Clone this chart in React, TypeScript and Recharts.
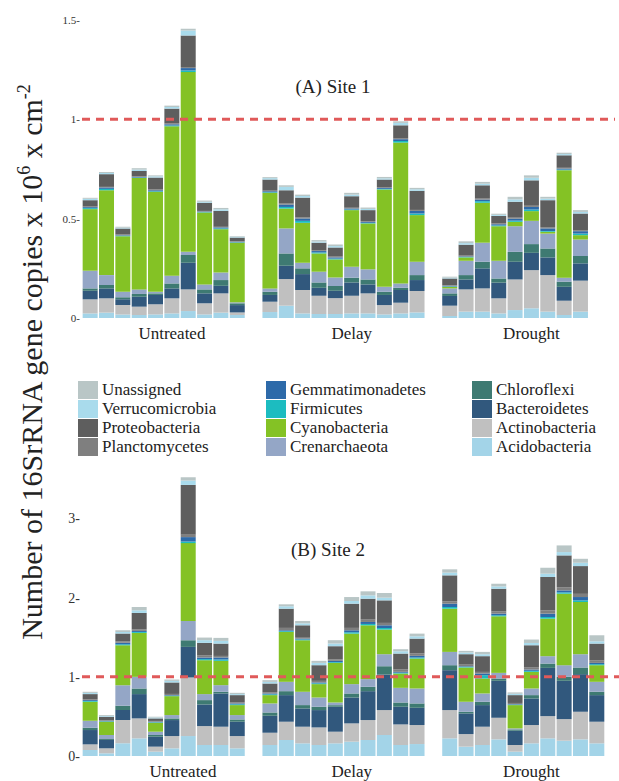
import { BarChart, Bar, XAxis, YAxis, ReferenceLine } from 'recharts'

// stack order, bottom to top
const phyla = [
  'Acidobacteria', 'Actinobacteria', 'Bacteroidetes', 'Chloroflexi', 'Crenarchaeota', 'Cyanobacteria',
  'Firmicutes', 'Gemmatimonadetes', 'Planctomycetes', 'Proteobacteria', 'Verrucomicrobia', 'Unassigned',
]
const phylumColors = [
  '#a3d4e8', '#c0c0c0', '#31587d', '#3e7a72', '#94a6c6', '#84c225',
  '#1cbcc0', '#2d6aa9', '#7f7f7f', '#5e5e5e', '#a9dbec', '#b9c6c6',
]
const groups = ['Untreated', 'Delay', 'Drought']
const barsPerGroup = 10
const labelBar = 6

const site1Ticks = [0, 0.5, 1, 1.5]
const site2Ticks = [0, 1, 2, 3]

// Site 1 (Untreated x10, Delay x10, Drought x9 + empty slot)
const s1Acido = [.023, .027, .018, .015, .018, .023, .035, .018, .027, .015, .03, .062, .023, .02, .02, .023, .023, .018, .023, .028, .01, .032, .032, .023, .04, .049, .032, .015, .032, null]
const s1Actino = [.071, .072, .047, .042, .051, .076, .109, .056, .097, .013, .052, .134, .118, .092, .08, .089, .101, .047, .054, .108, .052, .112, .117, .076, .154, .192, .184, .072, .156, null]
const s1Bactero = [.043, .05, .029, .05, .047, .05, .134, .05, .038, .037, .034, .067, .08, .04, .037, .067, .045, .051, .064, .055, .049, .05, .101, .079, .089, .087, .089, .07, .087, null]
const s1Chloro = [.012, .017, .01, .014, .008, .025, .039, .02, .029, .009, .016, .062, .029, .027, .024, .024, .025, .016, .011, .025, .013, .022, .033, .021, .05, .044, .045, .026, .037, null]
const s1Crenar = [.089, .05, .028, .023, .008, .039, .016, .025, .038, .005, .017, .126, .028, .054, .043, .055, .051, .025, .022, .067, .025, .072, .096, .089, .129, .117, .075, .02, .083, null]
const s1Cyano = [.31, .427, .28, .561, .503, .752, .905, .362, .218, .3, .481, .1, .201, .092, .091, .285, .231, .49, .709, .235, .008, .017, .201, .174, .022, .049, .009, .541, .022, null]
const s1Firmi = [.005, .007, .002, .002, .003, .004, .008, .002, .004, .002, .003, .008, .01, .005, .004, .003, .003, .003, .008, .008, .002, .002, .008, .004, .006, .008, .004, .003, .008, null]
const s1Gemma = [.005, .007, .003, .003, .005, .006, .012, .003, .005, .003, .005, .012, .012, .007, .006, .005, .005, .005, .009, .013, .003, .003, .008, .006, .01, .013, .013, .005, .012, null]
const s1Plancto = [.003, .003, .003, .003, .004, .004, .005, .003, .003, .003, .003, .005, .005, .004, .004, .004, .004, .004, .005, .005, .003, .004, .005, .004, .005, .006, .006, .004, .005, null]
const s1Proteo = [.032, .064, .03, .027, .06, .075, .159, .041, .08, .018, .056, .067, .1, .038, .046, .058, .055, .038, .065, .096, .034, .055, .067, .038, .08, .128, .136, .063, .084, null]
const s1Verruco = [.007, .006, .004, .007, .006, .008, .025, .005, .008, .004, .007, .017, .008, .006, .007, .008, .006, .006, .012, .008, .004, .008, .008, .005, .012, .013, .008, .006, .008, null]
const s1Unassigned = [.005, .005, .005, .007, .005, .007, .009, .006, .007, .003, .005, .008, .007, .007, .008, .009, .007, .007, .008, .007, .005, .009, .009, .006, .013, .012, .009, .007, .009, null]

// Site 2
const s2Acido = [.076, .034, .16, .223, .055, .097, .252, .139, .139, .097, .139, .202, .16, .139, .16, .181, .202, .265, .139, .151, .223, .118, .139, .21, .055, .16, .223, .193, .21, .16]
const s2Actino = [.071, .063, .294, .252, .063, .155, .74, .239, .231, .155, .155, .231, .21, .222, .147, .231, .252, .315, .26, .24, .357, .159, .231, .273, .084, .231, .281, .273, .349, .273]
const s2Bactero = [.181, .105, .126, .307, .126, .202, .386, .273, .42, .181, .214, .336, .231, .219, .315, .327, .365, .449, .223, .218, .504, .261, .273, .467, .18, .336, .609, .484, .475, .336]
const s2Chloro = [.029, .012, .054, .071, .021, .021, .084, .055, .021, .029, .042, .05, .042, .042, .02, .051, .055, .105, .054, .055, .063, .021, .042, .029, .017, .042, .055, .05, .084, .042]
const s2Crenar = [.088, .051, .261, .147, .042, .042, .244, .076, .084, .055, .114, .118, .168, .117, .034, .118, .097, .152, .185, .189, .168, .126, .105, .071, .013, .084, .093, .147, .168, .126]
const s2Cyano = [.24, .168, .504, .555, .113, .239, .983, .428, .307, .126, .105, .63, .651, .169, .5, .638, .68, .311, .181, .378, .546, .433, .189, .715, .294, .21, .474, .903, .659, .21]
const s2Firmi = [.01, .005, .013, .012, .006, .006, .02, .014, .017, .01, .01, .01, .01, .01, .01, .017, .017, .02, .01, .013, .021, .008, .042, .013, .006, .013, .021, .017, .021, .013]
const s2Gemma = [.011, .007, .017, .013, .007, .007, .056, .02, .025, .011, .011, .011, .011, .011, .016, .025, .025, .034, .011, .021, .042, .008, .021, .02, .006, .016, .042, .025, .042, .016]
const s2Plancto = [.01, .008, .02, .02, .01, .015, .03, .025, .02, .015, .015, .03, .02, .02, .02, .03, .03, .03, .03, .03, .03, .02, .02, .03, .015, .03, .04, .04, .04, .03]
const s2Proteo = [.066, .043, .097, .207, .032, .145, .629, .16, .156, .09, .111, .243, .148, .198, .165, .306, .264, .285, .201, .188, .328, .132, .199, .285, .099, .277, .423, .402, .351, .214]
const s2Verruco = [.015, .01, .021, .033, .011, .02, .055, .034, .034, .013, .02, .03, .025, .029, .034, .034, .042, .034, .029, .029, .034, .021, .025, .029, .017, .029, .042, .042, .042, .029]
const s2Unassigned = [.014, .011, .021, .042, .01, .017, .042, .033, .038, .016, .022, .025, .03, .026, .042, .05, .051, .059, .026, .034, .042, .021, .029, .034, .017, .043, .075, .084, .05, .076]

const site1Values = [s1Acido, s1Actino, s1Bactero, s1Chloro, s1Crenar, s1Cyano, s1Firmi, s1Gemma, s1Plancto, s1Proteo, s1Verruco, s1Unassigned]
const site2Values = [s2Acido, s2Actino, s2Bactero, s2Chloro, s2Crenar, s2Cyano, s2Firmi, s2Gemma, s2Plancto, s2Proteo, s2Verruco, s2Unassigned]

const FONT = '"Liberation Serif", "Times New Roman", serif'

function buildRows(values: (number | null)[][]) {
  const rows: Record<string, any>[] = []
  groups.forEach((g, gi) => {
    if (gi > 0) rows.push({ name: `gap${gi}` })
    for (let i = 0; i < barsPerGroup; i++) {
      const row: Record<string, any> = { name: `${g}-${i + 1}` }
      phyla.forEach((p, pi) => {
        row[p] = values[pi][gi * barsPerGroup + i]
      })
      rows.push(row)
    }
  })
  return rows
}

function GroupTick(props: any) {
  const { x, y, payload, shifts } = props
  const [g, n] = String(payload.value).split('-')
  if (Number(n) !== labelBar) return null
  const dx = shifts?.[g] ?? 0
  return (
    <text x={x + dx} y={y} dy="0.71em" textAnchor="middle" fontSize={17} fill="#222" fontFamily={FONT}>
      {g}
    </text>
  )
}

interface PanelProps {
  values: (number | null)[][]
  ticks: number[]
  domainMax: number
  width: number
  height: number
  top: number
  bottom: number
  rightMargin: number
  padRight: number
  tickFont: number
  shifts?: Record<string, number>
}

function Panel({ values, ticks, domainMax, width, height, top, bottom, rightMargin, padRight, tickFont, shifts }: PanelProps) {
  const data = buildRows(values)
  return (
    <BarChart
      width={width}
      height={height}
      data={data}
      margin={{ top, right: rightMargin, left: 0, bottom: 0 }}
      barCategoryGap="4%"
    >
      <XAxis
        dataKey="name"
        interval={0}
        axisLine={false}
        tickLine={false}
        tickSize={0}
        tickMargin={9}
        height={bottom}
        padding={{ left: 0, right: padRight }}
        tick={<GroupTick shifts={shifts} />}
      />
      <YAxis
        domain={[0, domainMax]}
        ticks={ticks}
        axisLine={false}
        tickLine={false}
        tickSize={0}
        tickMargin={2}
        width={82}
        tickFormatter={(v) => `${v}-`}
        tick={{ fontSize: tickFont, fill: '#333', fontFamily: FONT }}
      />
      {phyla.map((p, i) => (
        <Bar key={p} dataKey={p} stackId="a" fill={phylumColors[i]} isAnimationActive={false} />
      ))}
      <ReferenceLine y={1} stroke="#e05a5a" strokeWidth={3} strokeDasharray="8 6" />
    </BarChart>
  )
}

function LegendBlock() {
  const order = [...phyla].reverse()
  const colX = [78, 266, 472]
  return (
    <>
      {order.map((p, i) => {
        const col = Math.floor(i / 4)
        const row = i % 4
        const color = phylumColors[phyla.indexOf(p)]
        return (
          <div
            key={p}
            style={{ position: 'absolute', left: colX[col], top: 380 + row * 19, height: 19, display: 'flex', alignItems: 'center' }}
          >
            <span style={{ width: 20, height: 18, background: color, display: 'inline-block' }} />
            <span style={{ marginLeft: 4, fontSize: 17, lineHeight: '19px', color: '#222' }}>{p}</span>
          </div>
        )
      })}
    </>
  )
}

export default function App() {
  return (
    <div style={{ position: 'absolute', left: 0, top: 0, width: 619, height: 781, background: '#fff', fontFamily: FONT, overflow: 'hidden' }}>
      <div style={{ position: 'absolute', left: 0, top: 0 }}>
        <Panel
          values={site1Values}
          ticks={site1Ticks}
          domainMax={1.5}
          width={619}
          height={345}
          top={20}
          bottom={27}
          rightMargin={4}
          padRight={10}
          tickFont={11}
        />
      </div>
      <div style={{ position: 'absolute', left: 0, top: 451 }}>
        <Panel
          values={site2Values}
          ticks={site2Ticks}
          domainMax={3.6}
          width={619}
          height={330}
          top={20}
          bottom={25}
          rightMargin={0}
          padRight={14}
          tickFont={14}
          shifts={{ Untreated: 11 }}
        />
      </div>
      <div style={{ position: 'absolute', left: 233, width: 200, top: 76, textAlign: 'center', fontSize: 19, color: '#222' }}>(A) Site 1</div>
      <div style={{ position: 'absolute', left: 228, width: 200, top: 539, textAlign: 'center', fontSize: 19, color: '#222' }}>(B) Site 2</div>
      <LegendBlock />
      <svg width={619} height={781} style={{ position: 'absolute', left: 0, top: 0, pointerEvents: 'none' }}>
        <text transform="translate(42,362) rotate(-90)" textAnchor="middle" fontSize={30} fill="#222" fontFamily={FONT}>
          Number of 16SrRNA gene copies x 10
          <tspan fontSize={18} dy={-12}>6</tspan>
          <tspan dy={12}> x cm</tspan>
          <tspan fontSize={18} dy={-12}>-2</tspan>
        </text>
      </svg>
    </div>
  )
}
